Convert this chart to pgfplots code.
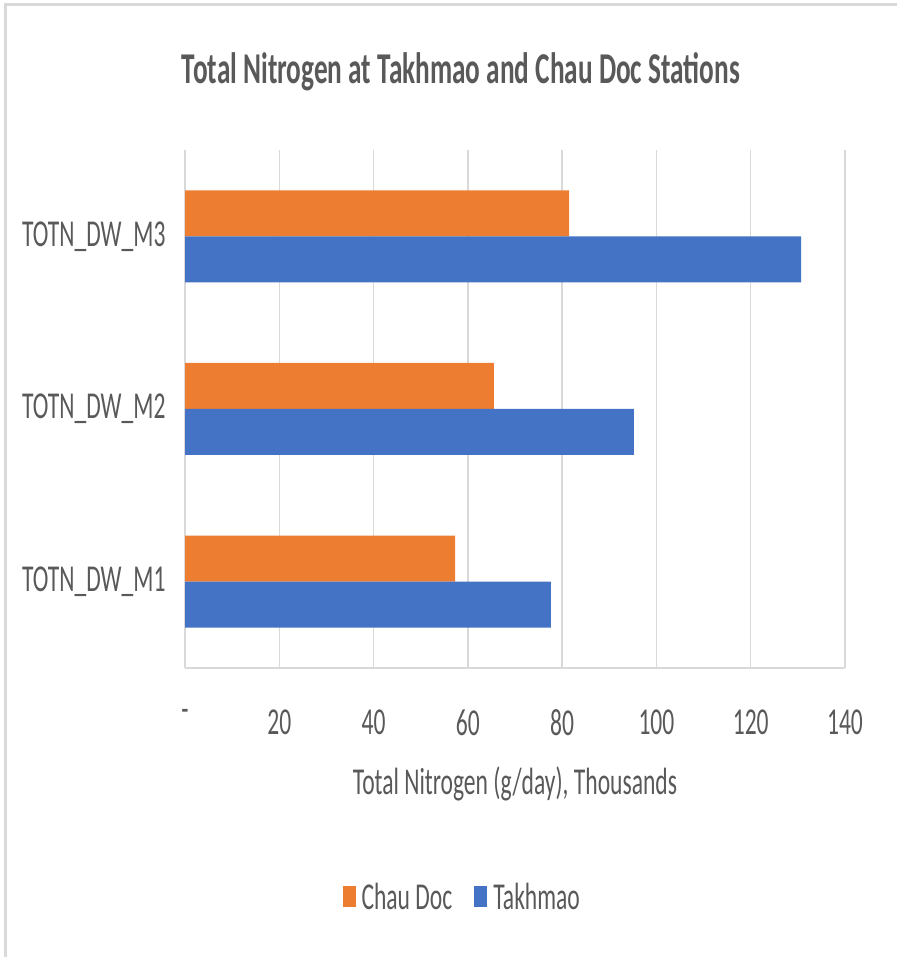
\documentclass[border=0pt]{standalone}
\usepackage{pgfplots}
\pgfplotsset{compat=1.18}
\usepackage{fontspec}
\setmainfont{Carlito}[FakeStretch=0.62]
\definecolor{cdoc}{HTML}{ED7D31}
\definecolor{takh}{HTML}{4472C4}
\definecolor{txt}{HTML}{595959}
\definecolor{grd}{HTML}{D9D9D9}
\begin{document}
\begin{tikzpicture}
\path[use as bounding box] (0pt,0pt) rectangle (897pt,957pt);
\draw[grd,line width=3pt] (5pt,0pt) -- (5pt,952pt) -- (897pt,952pt);
\begin{axis}[
  at={(185pt,289pt)}, anchor=south west,
  scale only axis, width=660pt, height=518pt,
  xmin=0, xmax=140, ymin=0.5, ymax=3.5,
  xbar, bar width=46pt,
  xtick={0,20,40,60,80,100,120,140},
  xticklabels={-,20,40,60,80,100,120,140},
  ytick={1,2,3},
  yticklabels={TOTN\_DW\_M1,TOTN\_DW\_M2,TOTN\_DW\_M3},
  /pgf/number format/assume math mode=true,
  axis x line*=bottom, axis y line*=left,
  x axis line style={grd, line width=1.5pt, -},
  y axis line style={draw=none},
  xmajorgrids, major grid style={grd, line width=1.5pt},
  major tick length=0pt,
  tick label style={font=\fontsize{38}{42}\selectfont, text=txt},
  xticklabel style={yshift=-38pt},
  yticklabel style={xshift=-16pt},
  xlabel={Total Nitrogen (g/day), Thousands},
  xlabel style={font=\fontsize{38}{42}\selectfont, text=txt, yshift=-24pt},
  title={\bfseries Total Nitrogen at Takhmao and Chau Doc Stations},
  title style={font=\fontsize{44}{48}\selectfont, text=txt, at={(0.418,1)}, yshift=50pt},
  clip=false,
  legend columns=2,
  legend style={at={(0.42,-0.442)}, anchor=center, draw=none, fill=none,
    font=\fontsize{38}{42}\selectfont, text=txt,
    /tikz/every odd column/.append style={column sep=4pt},
    /tikz/every even column/.append style={column sep=20pt}},
  legend image code/.code={\fill[#1] (0pt,-10pt) rectangle (13pt,11pt);},
]
\addplot[fill=cdoc, draw=none, bar shift=23pt] coordinates {(57.3,1) (65.5,2) (81.5,3)};
\addplot[fill=takh, draw=none, bar shift=-23pt] coordinates {(77.6,1) (95.2,2) (130.7,3)};
\legend{Chau Doc,Takhmao}
\end{axis}
\end{tikzpicture}
\end{document}
